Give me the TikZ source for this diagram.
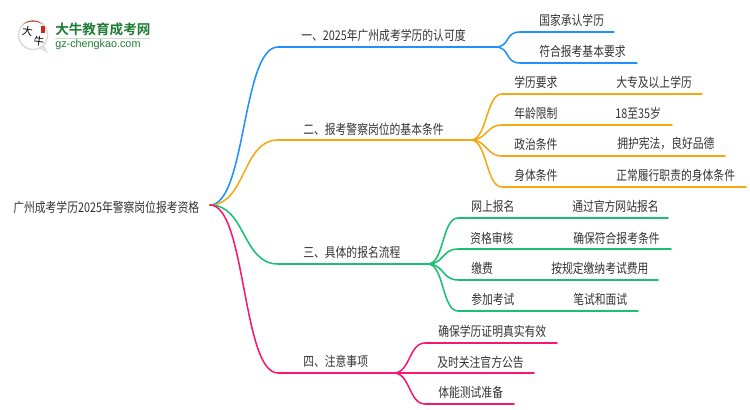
\documentclass[tikz,border=0pt]{standalone}
\usepackage{fontspec}
\setmainfont[FakeStretch=0.81]{Noto Sans CJK SC}
\newfontfamily\plainfont{Noto Sans CJK SC}
\newfontfamily\logofont{Noto Sans CJK SC Bold}
\newfontfamily\latinlogo{Liberation Sans}
\usetikzlibrary{calc}
\definecolor{cblue}{HTML}{1E90FF}
\definecolor{corange}{HTML}{F5A80F}
\definecolor{cgreen}{HTML}{18C070}
\definecolor{cpink}{HTML}{F8166F}
\definecolor{ctext}{HTML}{333333}
\definecolor{logogreen}{HTML}{1E7B34}
\definecolor{logored}{HTML}{C8281E}
\tikzset{
  lbl/.style={inner sep=0pt,anchor=west,text=ctext,font=\fontsize{10pt}{12pt}\selectfont},
  logochar/.style={inner sep=0pt,rotate=-8,font=\plainfont\fontsize{8pt}{8pt}\selectfont,text=black},
  branch/.style={line width=1.15pt,line cap=round},
  main/.style={branch,out=0,in=180,out distance=27pt,in distance=27pt},
  sub/.style={branch,out=0,in=180,out distance=12pt,in distance=12pt},
}
\begin{document}
\begin{tikzpicture}[x=0.75pt,y=-0.75pt]
\useasboundingbox (0,0) rectangle (750,410);
% logo
\draw[white!85!black,line width=1pt,fill=white] (33,35) circle[radius=14.5];
\fill[white!88!black] (48,53) -- (39,48.5) -- (44,45) -- cycle;
\fill[logored] (23,24.5) arc[start angle=225,end angle=315,radius=14] .. controls (38,20.5) and (28,20.5) .. (23,24.5);
\fill[logored] (41,26) rectangle (45,33);
\node[logochar] (logoa) at (27.5,31.5) {大};
\node[logochar] (logob) at (39,41) {牛};
\node[inner sep=0pt,anchor=west,text=logogreen,font=\logofont\fontsize{10.2pt}{12pt}\selectfont] (logotitle) at (55,29.5) {大牛教育成考网};
\draw[logogreen!25,line width=0.8pt] (55,38.5) -- (150,38.5);
\node[inner sep=0pt,anchor=west,text=logogreen,font=\latinlogo\fontsize{8.1pt}{10pt}\selectfont] (logourl) at (55,45) {gz-chengkao.com};
% root
\coordinate (root) at (210,205);
\node[lbl] (rootlabel) at (13,207) {广州成考学历2025年警察岗位报考资格};
% level one
\coordinate (b1) at (278,47);  \coordinate (f1) at (495,47);
\coordinate (b2) at (278,140); \coordinate (f2) at (471,140);
\coordinate (b3) at (278,264); \coordinate (f3) at (428,264);
\coordinate (b4) at (278,373); \coordinate (f4) at (394,373);
\draw[main,cblue]   (root) to (b1) -- (f1);
\draw[main,corange] (root) to (b2) -- (f2);
\draw[main,cgreen]  (root) to (b3) -- (f3);
\draw[main,cpink]   (root) to (b4) -- (f4);
\node[lbl] (t1) at (301,35)  {一、2025年广州成考学历的认可度};
\node[lbl] (t2) at (303,129) {二、报考警察岗位的基本条件};
\node[lbl] (t3) at (303,252) {三、具体的报名流程};
\node[lbl] (t4) at (303,361) {四、注意事项};
% blue leaves
\coordinate (e11) at (520,32); \coordinate (x11) at (614,32);
\coordinate (e12) at (520,63); \coordinate (x12) at (637,63);
\draw[sub,cblue] (f1) to (e11) -- (x11);
\draw[sub,cblue] (f1) to (e12) -- (x12);
\node[lbl] (l11) at (539,20) {国家承认学历};
\node[lbl] (l12) at (539,51) {符合报考基本要求};
% orange leaves
\coordinate (e21) at (502,94);  \coordinate (x21) at (702,94);
\coordinate (e22) at (502,125); \coordinate (x22) at (672,125);
\coordinate (e23) at (502,156); \coordinate (x23) at (725,156);
\coordinate (e24) at (502,187); \coordinate (x24) at (746,187);
\draw[sub,corange] (f2) to (e21) -- (x21);
\draw[sub,corange] (f2) to (e22) -- (x22);
\draw[sub,corange] (f2) to (e23) -- (x23);
\draw[sub,corange] (f2) to (e24) -- (x24);
\node[lbl] (l21) at (514,82)  {学历要求};
\node[lbl] (v21) at (616,82)  {大专及以上学历};
\node[lbl] (l22) at (514,113) {年龄限制};
\node[lbl] (v22) at (615,113) {18至35岁};
\node[lbl] (l23) at (514,144) {政治条件};
\node[lbl] (v23) at (617,144) {拥护宪法，良好品德};
\node[lbl] (l24) at (514,175) {身体条件};
\node[lbl] (v24) at (616,175) {正常履行职责的身体条件};
% green leaves
\coordinate (e31) at (458,218); \coordinate (x31) at (668,218);
\coordinate (e32) at (458,249); \coordinate (x32) at (671,249);
\coordinate (e33) at (458,280); \coordinate (x33) at (658,280);
\coordinate (e34) at (458,311); \coordinate (x34) at (638,311);
\draw[sub,cgreen] (f3) to (e31) -- (x31);
\draw[sub,cgreen] (f3) to (e32) -- (x32);
\draw[sub,cgreen] (f3) to (e33) -- (x33);
\draw[sub,cgreen] (f3) to (e34) -- (x34);
\node[lbl] (l31) at (471,206) {网上报名};
\node[lbl] (v31) at (572,206) {通过官方网站报名};
\node[lbl] (l32) at (470,238) {资格审核};
\node[lbl] (v32) at (573,238) {确保符合报考条件};
\node[lbl] (l33) at (471,268) {缴费};
\node[lbl] (v33) at (551,268) {按规定缴纳考试费用};
\node[lbl] (l34) at (471,299) {参加考试};
\node[lbl] (v34) at (573,299) {笔试和面试};
% pink leaves
\coordinate (e41) at (425,343); \coordinate (x41) at (557,343);
\coordinate (e42) at (425,373); \coordinate (x42) at (534,373);
\coordinate (e43) at (425,404); \coordinate (x43) at (514,404);
\draw[sub,cpink] (f4) to (e41) -- (x41);
\draw[sub,cpink] (f4) to (e42) -- (x42);
\draw[sub,cpink] (f4) to (e43) -- (x43);
\node[lbl] (l41) at (438,331) {确保学历证明真实有效};
\node[lbl] (l42) at (437,362) {及时关注官方公告};
\node[lbl] (l43) at (438,392) {体能测试准备};
\end{tikzpicture}
\end{document}
